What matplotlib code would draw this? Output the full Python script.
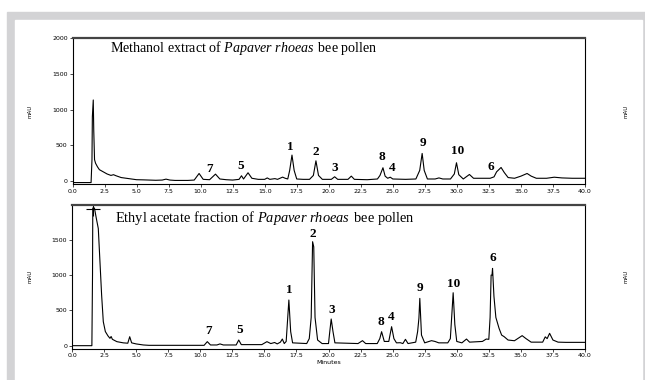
import matplotlib
matplotlib.use("Agg")
import matplotlib.pyplot as plt
from matplotlib.patches import Rectangle

plt.rcParams['font.family'] = ['Liberation Serif', 'DejaVu Serif']
plt.rcParams['mathtext.fontset'] = 'custom'
plt.rcParams['mathtext.rm'] = 'Liberation Serif'
plt.rcParams['mathtext.it'] = 'Liberation Serif:italic'

# Methanol extract trace (minutes, mAU)
meoh_t = [0.0, 1.45, 1.52, 1.55, 1.62, 1.66, 1.72, 1.8, 1.95, 2.1, 2.4, 2.7, 3.0, 3.2, 3.4,
          3.8, 4.2, 4.6, 5.0, 5.5, 6.0, 6.5, 7.0, 7.3, 7.6, 8.0, 9.0, 9.5, 9.88, 10.2,
          10.7, 11.16, 11.5, 12.0, 12.5, 13.0, 13.19, 13.35, 13.7, 14.0, 14.5, 15.0, 15.2,
          15.4, 15.8, 16.0, 16.4, 16.6, 16.8, 16.95, 17.13, 17.3, 17.5, 18.0, 18.5, 18.8,
          19.0, 19.2, 19.5, 20.2, 20.46, 20.7, 21.5, 21.76, 22.0, 23.0, 23.8, 24.0, 24.23,
          24.4, 24.6, 24.8, 25.0, 26.0, 26.8, 27.1, 27.29, 27.45, 27.7, 28.3, 28.6, 28.9,
          29.5, 29.8, 29.97, 30.15, 30.5, 30.98, 31.3, 32.0, 32.6, 32.9, 33.1, 33.45, 33.7,
          34.0, 34.5, 35.0, 35.48, 35.8, 36.2, 37.0, 37.6, 38.2, 39.0, 40.0]
meoh_v = [-20, -20, 300, 900, 1134, 700, 300, 250, 200, 160, 130, 100, 80, 90, 75,
          50, 40, 30, 20, 18, 15, 12, 15, 28, 15, 10, 10, 15, 107, 25,
          20, 98, 30, 20, 15, 25, 75, 30, 117, 40, 25, 25, 45,
          25, 35, 25, 56, 40, 30, 150, 364, 150, 30, 25, 25, 80,
          284, 80, 25, 25, 61, 25, 25, 70, 25, 20, 30, 80, 187,
          70, 40, 55, 30, 25, 30, 150, 387, 150, 30, 30, 45, 30,
          30, 100, 257, 90, 30, 93, 40, 40, 40, 60, 130, 191, 120,
          50, 40, 70, 107, 70, 40, 40, 55, 45, 40, 40]

# Ethyl acetate fraction trace (minutes, mAU)
etoac_t = [0.0, 1.55, 1.6, 1.62, 1.75, 1.9, 2.05, 2.18, 2.31, 2.44, 2.6, 2.8, 2.96, 3.05,
           3.15, 3.5, 4.0, 4.35, 4.5, 4.65, 5.0, 5.56, 6.0, 10.3, 10.55, 10.8, 11.3, 11.54,
           11.8, 12.8, 13.0, 13.2, 14.8, 15.2, 15.5, 15.8, 16.0, 16.25, 16.4, 16.55, 16.7,
           16.91, 17.05, 17.2, 18.3, 18.5, 18.65, 18.76, 18.85, 18.95, 19.15, 19.5, 20.0,
           20.1, 20.21, 20.35, 20.5, 22.3, 22.65, 22.9, 23.8, 24.0, 24.14, 24.35, 24.7,
           24.92, 25.1, 25.3, 25.6, 25.8, 26.0, 26.2, 26.8, 26.95, 27.05, 27.12, 27.25,
           27.5, 28.03, 28.3, 28.6, 29.3, 29.5, 29.6, 29.72, 29.85, 30.0, 30.4, 30.76,
           31.0, 32.0, 32.3, 32.5, 32.6, 32.68, 32.75, 32.79, 32.9, 33.05, 33.3, 33.5,
           33.7, 34.0, 34.5, 35.1, 35.4, 35.8, 36.7, 36.9, 37.05, 37.24, 37.5, 37.9, 38.5,
           40.0]
etoac_v = [0, 0, 1000, 1950, 1950, 1800, 1660, 1190, 717, 340, 200, 140, 104, 130,
           90, 57, 40, 35, 127, 40, 25, 10, 5, 5, 57, 10, 10, 25,
           10, 10, 80, 15, 15, 57, 30, 45, 25, 50, 94, 30, 60,
           647, 200, 40, 30, 100, 400, 1473, 1400, 400, 80, 30, 30,
           200, 378, 200, 40, 30, 71, 30, 30, 100, 198, 60, 60,
           269, 100, 40, 42, 30, 90, 30, 50, 200, 390, 670, 150,
           40, 71, 60, 40, 40, 100, 390, 750, 300, 60, 40, 94,
           50, 60, 94, 90, 400, 1000, 1000, 1095, 700, 400, 245, 150,
           127, 80, 70, 142, 100, 50, 50, 125, 100, 175, 80, 50, 47,
           47]

# peak labels
peak_names = ['1', '2', '3', '8', '4', '9', '10', '6', '7', '5']
meoh_lab_t = [17.03, 18.98, 20.46, 24.12, 24.98, 27.32, 30.05, 32.62, 10.72, 13.13]
meoh_lab_v = [476, 406, 182, 336, 182, 532, 420, 196, 168, 210]
etoac_lab_t = [16.91, 18.81, 20.29, 24.06, 24.86, 27.12, 29.77, 32.79, 10.63, 13.04]
etoac_lab_v = [789, 1578, 506, 340, 411, 813, 870, 1246, 208, 222]

xticks = [0, 2.5, 5, 7.5, 10, 12.5, 15, 17.5, 20, 22.5, 25, 27.5, 30, 32.5, 35, 37.5, 40]

fig = plt.figure(figsize=(6.45, 3.8), dpi=100)
W, H = 645, 380
fig.add_artist(Rectangle((7 / W, 0), 1 - 7 / W, 1 - 12 / H, transform=fig.transFigure,
                         color='#d3d3d5', zorder=-3))
fig.add_artist(Rectangle((15 / W, 0), (642 - 15) / W, 1 - 20 / H, transform=fig.transFigure,
                         color='white', zorder=-2))

ax1 = fig.add_axes([72.5 / W, 1 - 184 / H, 512.5 / W, 146 / H])
ax2 = fig.add_axes([72 / W, 1 - 348.5 / H, 513 / W, 144 / H])


def style(ax, yt):
    ax.set_xlim(0, 40)
    ax.set_ylim(-40, 2000)
    ax.set_xticks(xticks)
    ax.set_xticklabels(['%.1f' % x for x in xticks])
    ax.set_yticks(yt)
    ax.tick_params(axis='both', labelsize=4.5, length=2, width=0.5, pad=1.5,
                   labelfontfamily='DejaVu Sans')
    ax.tick_params(axis='y', right=True, labelright=True)
    for s in ax.spines.values():
        s.set_linewidth(0.8)
    ax.spines['top'].set_linewidth(1.6)
    ax.spines['top'].set_color('#444444')
    ax.set_ylabel('mAU', fontsize=4, family='DejaVu Sans', labelpad=14)
    r = ax.twinx()
    r.set_ylim(ax.get_ylim())
    r.set_yticks([])
    r.patch.set_visible(False)
    for s in r.spines.values():
        s.set_visible(False)
    r.set_ylabel('mAU', fontsize=4, family='DejaVu Sans', labelpad=28)


ax1.plot(meoh_t, meoh_v, color='black', lw=0.8)
style(ax1, [0, 500, 1000, 1500, 2000])
ax1.text(2.92, 1862, 'Methanol extract of $\\it{Papaver\\ rhoeas\\,}$ bee pollen',
         fontsize=10.1, va='center', ha='left')
for n, t, v in zip(peak_names, meoh_lab_t, meoh_lab_v):
    ax1.text(t, v, n, fontsize=9.5, fontweight='bold', ha='center', va='center')

ax2.plot(etoac_t, etoac_v, color='black', lw=0.8)
ax2.plot([1.62], [1935], marker='+', ms=10, mew=0.8, color='black')
style(ax2, [0, 500, 1000, 1500])
ax2.text(3.35, 1813, 'Ethyl acetate fraction of $\\it{Papaver\\ rhoeas\\,}$ bee pollen',
         fontsize=10.4, va='center', ha='left')
for n, t, v in zip(peak_names, etoac_lab_t, etoac_lab_v):
    ax2.text(t, v, n, fontsize=9.5, fontweight='bold', ha='center', va='center')
ax2.set_xlabel('Minutes', fontsize=4.5, family='DejaVu Sans', labelpad=1)

fig.savefig('out.png', dpi=100)
